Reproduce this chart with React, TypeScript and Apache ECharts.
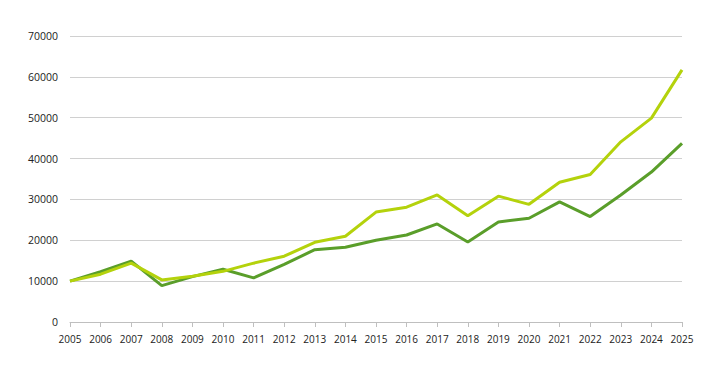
import React, { useEffect, useRef } from "react";
import * as echarts from "echarts";

const years = ["2005","2006","2007","2008","2009","2010","2011","2012","2013","2014","2015","2016","2017","2018","2019","2020","2021","2022","2023","2024","2025"];
const lightSeries = [10000, 11700, 14400, 10300, 11200, 12400, 14400, 16100, 19500, 21000, 26900, 28100, 31100, 26000, 30800, 28800, 34200, 36100, 44100, 49900, 61700];
const darkSeries = [10000, 12300, 14900, 8900, 11100, 12900, 10800, 14100, 17700, 18300, 20000, 21300, 24000, 19600, 24500, 25400, 29400, 25800, 31100, 36700, 43700];

export default function App() {
  const ref = useRef<HTMLDivElement>(null);
  useEffect(() => {
    if (!ref.current) return;
    const chart = echarts.init(ref.current, undefined, { renderer: "svg" });
    const font = "'Open Sans', 'Noto Sans', sans-serif";
    chart.setOption({
      animation: false,
      grid: { left: 70, right: 32, top: 36, bottom: 46, containLabel: false },
      xAxis: {
        type: "category",
        data: years,
        boundaryGap: false,
        axisLine: { lineStyle: { color: "#bfbfbf", width: 1 } },
        axisTick: { show: true, length: 5, alignWithLabel: true, lineStyle: { color: "#bfbfbf" } },
        axisLabel: { color: "#222222", fontSize: 10, fontFamily: font, margin: 12, interval: 0 },
        splitLine: { show: false },
      },
      yAxis: {
        type: "value",
        min: 0,
        max: 70000,
        interval: 10000,
        axisLine: { show: false },
        axisTick: { show: false },
        axisLabel: {
          color: "#222222",
          fontSize: 10.5,
          fontFamily: font,
          margin: 12,
          formatter: (v: number) => String(v),
        },
        splitLine: { lineStyle: { color: "#d0d0d0", width: 1 } },
      },
      series: [
        {
          type: "line",
          data: darkSeries,
          symbol: "none",
          lineStyle: { color: "#5a9e2a", width: 3 },
          itemStyle: { color: "#5a9e2a" },
          z: 2,
        },
        {
          type: "line",
          data: lightSeries,
          symbol: "none",
          lineStyle: { color: "#b4d20c", width: 3 },
          itemStyle: { color: "#b4d20c" },
          z: 3,
        },
      ],
    });
    return () => chart.dispose();
  }, []);
  return <div ref={ref} style={{ width: 714, height: 368, position: "absolute", left: 0, top: 0 }} />;
}
